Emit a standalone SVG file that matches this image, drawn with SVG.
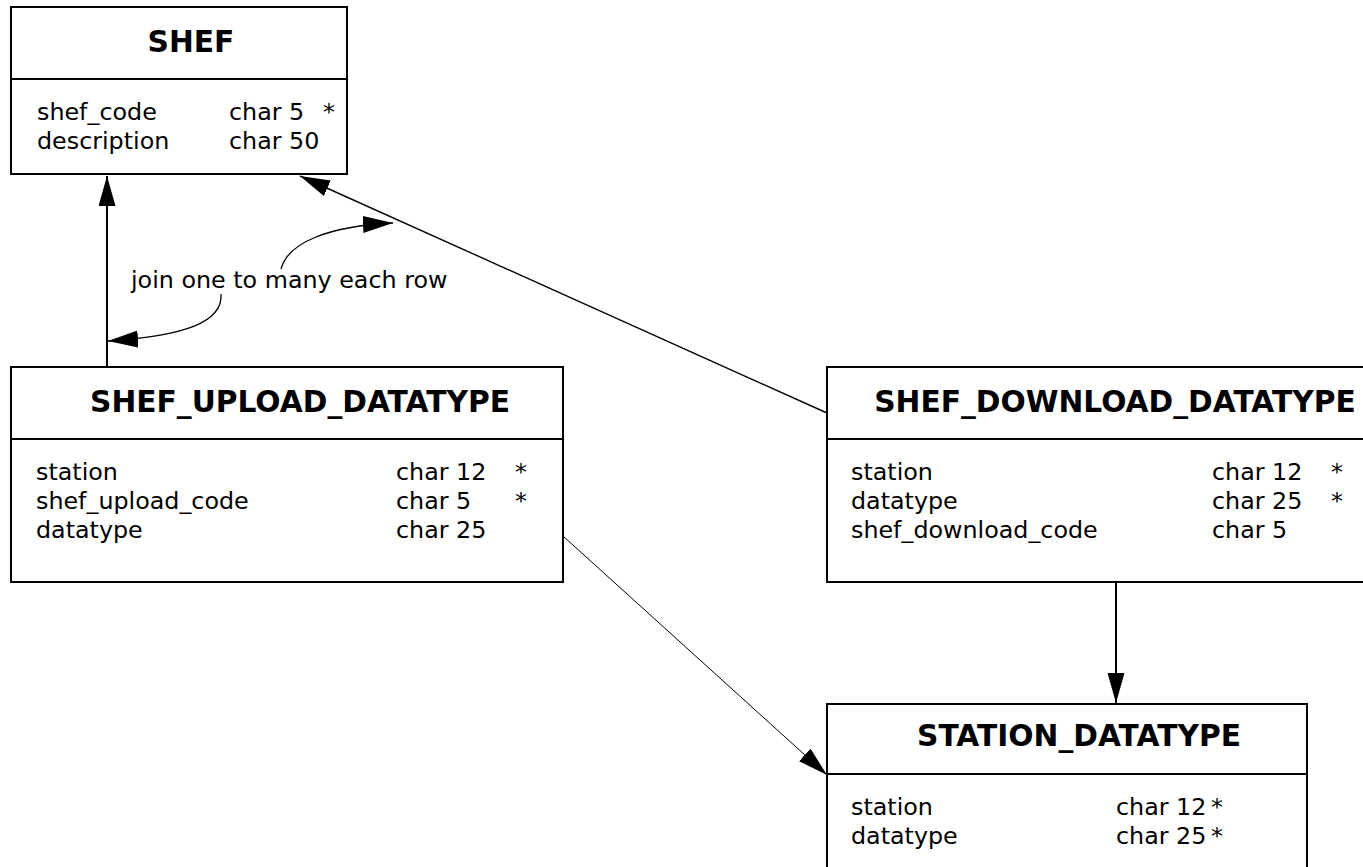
<svg xmlns="http://www.w3.org/2000/svg" width="1363" height="867" viewBox="0 0 1363 867">
  <defs>
    <style>
      .box { fill: #ffffff; stroke: #000000; stroke-width: 2; }
      .div { stroke: #000000; stroke-width: 2; }
      .title { font-family: "DejaVu Sans", "Liberation Sans", sans-serif; font-weight: bold; font-size: 29.7px; fill: #000000; text-anchor: middle; }
      .txt { font-family: "DejaVu Sans", "Liberation Sans", sans-serif; font-size: 23.8px; fill: #000000; }
      .conn { fill: none; stroke: #000000; }
    </style>
    <marker id="arr" markerUnits="userSpaceOnUse" markerWidth="30" markerHeight="18" refX="30" refY="8.5" orient="auto">
      <path d="M0,0 L30,8.5 L0,17 z" fill="#000000"/>
    </marker>
  </defs>
  <rect width="1363" height="867" fill="#ffffff"/>

  <g id="connectors">
    <line class="conn" x1="107" y1="367" x2="107" y2="176" stroke-width="2" marker-end="url(#arr)"/>
    <line class="conn" x1="827" y1="413" x2="300" y2="176" stroke-width="1.4" marker-end="url(#arr)"/>
    <line class="conn" x1="563" y1="536" x2="827" y2="775" stroke-width="1" marker-end="url(#arr)"/>
    <line class="conn" x1="1116" y1="582" x2="1116" y2="703" stroke-width="2" marker-end="url(#arr)"/>
    <path class="conn" d="M221,294 C223,322 185,336 108,341" stroke-width="1.3" marker-end="url(#arr)"/>
    <path class="conn" d="M281,269 C288,242 330,226 393,223" stroke-width="1.3" marker-end="url(#arr)"/>
  </g>

  <g id="label">
    <text class="txt" x="131" y="288">join one to many each row</text>
  </g>

  <g id="shef">
    <rect class="box" x="11" y="7" width="336" height="167"/>
    <line class="div" x1="11" y1="79" x2="347" y2="79"/>
    <text class="title" x="191" y="52">SHEF</text>
    <text class="txt" x="37" y="120">shef_code</text>
    <text class="txt" x="229" y="120">char 5</text>
    <text class="txt" x="323" y="120">*</text>
    <text class="txt" x="37" y="149">description</text>
    <text class="txt" x="229" y="149">char 50</text>
  </g>

  <g id="shef_upload_datatype">
    <rect class="box" x="11" y="367" width="552" height="215"/>
    <line class="div" x1="11" y1="439" x2="563" y2="439"/>
    <text class="title" x="300" y="412">SHEF_UPLOAD_DATATYPE</text>
    <text class="txt" x="36" y="480">station</text>
    <text class="txt" x="396" y="480">char 12</text>
    <text class="txt" x="515" y="480">*</text>
    <text class="txt" x="36" y="509">shef_upload_code</text>
    <text class="txt" x="396" y="509">char 5</text>
    <text class="txt" x="515" y="509">*</text>
    <text class="txt" x="36" y="538">datatype</text>
    <text class="txt" x="396" y="538">char 25</text>
  </g>

  <g id="shef_download_datatype">
    <rect class="box" x="827" y="367" width="556" height="215"/>
    <line class="div" x1="827" y1="439" x2="1383" y2="439"/>
    <text class="title" x="1115" y="412">SHEF_DOWNLOAD_DATATYPE</text>
    <text class="txt" x="851" y="480">station</text>
    <text class="txt" x="1212" y="480">char 12</text>
    <text class="txt" x="1331" y="480">*</text>
    <text class="txt" x="851" y="509">datatype</text>
    <text class="txt" x="1212" y="509">char 25</text>
    <text class="txt" x="1331" y="509">*</text>
    <text class="txt" x="851" y="538">shef_download_code</text>
    <text class="txt" x="1212" y="538">char 5</text>
  </g>

  <g id="station_datatype">
    <rect class="box" x="827" y="704" width="480" height="167"/>
    <line class="div" x1="827" y1="774" x2="1307" y2="774"/>
    <text class="title" x="1079" y="746">STATION_DATATYPE</text>
    <text class="txt" x="851" y="815">station</text>
    <text class="txt" x="1116" y="815">char 12</text>
    <text class="txt" x="1211" y="815">*</text>
    <text class="txt" x="851" y="844">datatype</text>
    <text class="txt" x="1116" y="844">char 25</text>
    <text class="txt" x="1211" y="844">*</text>
  </g>
</svg>
